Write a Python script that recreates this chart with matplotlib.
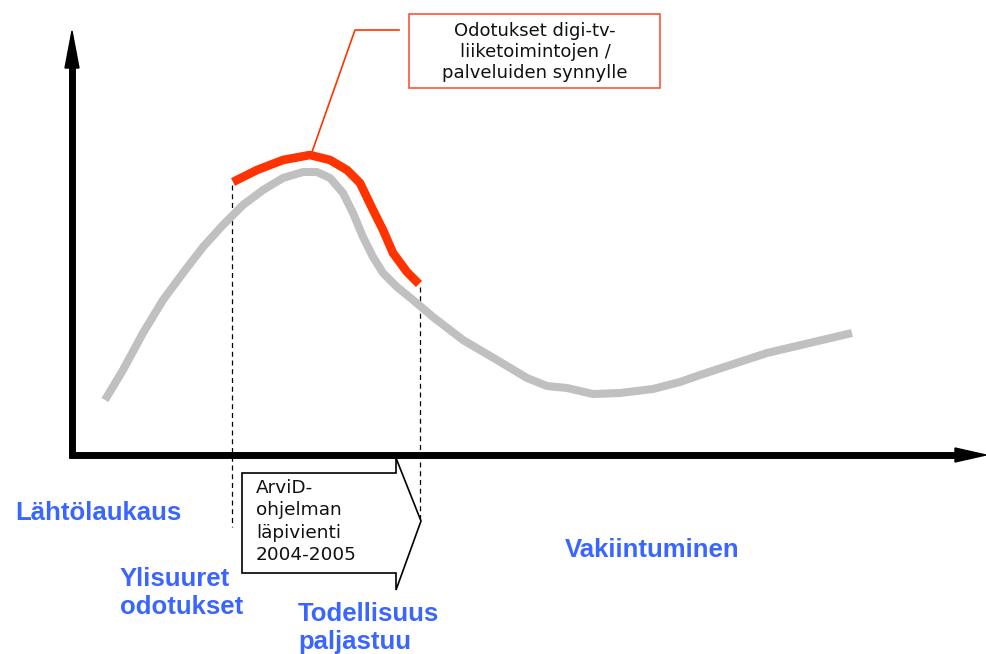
import matplotlib.pyplot as plt
from matplotlib.patches import Polygon, Rectangle

# Käyrät (kuvan pikselikoordinaateissa, y alaspäin)
harmaa_x = [105, 123, 143, 163, 183, 203, 223, 243, 263, 283, 303, 317, 330, 343, 353, 363, 373, 383,
            397, 413, 433, 463, 497, 527, 547, 567, 593, 620, 653, 680, 700, 767, 852]
harmaa_y = [400, 370, 333, 300, 273, 247, 225, 205, 190, 178, 172, 172, 178, 193, 213, 237, 257, 273,
            287, 300, 317, 340, 360, 378, 386, 388, 394, 393, 389, 382, 375, 353, 333]

punainen_x = [233, 257, 283, 310, 330, 347, 360, 373, 383, 393, 407, 419]
punainen_y = [182, 170, 160, 155, 160, 170, 183, 210, 230, 253, 272, 284]

katkoviivat_x = [232, 420]
katkoviivat_y = [(185, 527), (287, 522)]

otsikko = "Odotukset digi-tv-\nliiketoimintojen /\npalveluiden synnylle"
nuoli_teksti = "ArviD-\nohjelman\nläpivienti\n2004-2005"
vaiheet = ["Lähtölaukaus", "Ylisuuret\nodotukset", "Todellisuus\npaljastuu", "Vakiintuminen"]
vaihe_x = [15, 120, 298, 565]
vaihe_y = [513, 593, 628, 550]

sininen = "#3a66ff"

fig = plt.figure(figsize=(9.86, 6.54), dpi=100)
ax = fig.add_axes([0, 0, 1, 1])
ax.set_xlim(0, 986)
ax.set_ylim(654, 0)
ax.axis("off")

# akselit
ax.plot([72, 72], [458, 60], color="black", lw=5, solid_capstyle="butt")
ax.plot([69, 960], [455, 455], color="black", lw=5, solid_capstyle="butt")
ax.add_patch(Polygon([(65, 68), (72, 31), (79, 68)], closed=True, color="black"))
ax.add_patch(Polygon([(955, 448), (986, 455), (955, 462)], closed=True, color="black"))

# käyrät
ax.plot(harmaa_x, harmaa_y, color="#c0c0c0", lw=5.8, solid_capstyle="butt",
        solid_joinstyle="round", zorder=2)
ax.plot(punainen_x, punainen_y, color="#ff3300", lw=6.2, solid_capstyle="butt",
        solid_joinstyle="round", zorder=3)

# katkoviivat
for x, (y0, y1) in zip(katkoviivat_x, katkoviivat_y):
    ax.plot([x, x], [y0, y1], color="black", lw=0.9, ls=(0, (4, 3)), zorder=1)

# selitelaatikko
ax.add_patch(Rectangle((409, 14), 251, 74, fill=False, edgecolor="#ff5533", lw=1.2))
ax.text(535, 52, otsikko, ha="center", va="center", fontsize=13, linespacing=1.2,
        color="#111111", family="DejaVu Sans")
ax.plot([312, 355, 399], [152, 30, 30], color="#ff3300", lw=1.2)

# nuolilaatikko
ax.add_patch(Polygon([(242, 473), (396, 473), (396, 458), (421, 521), (396, 590), (396, 573), (242, 573)],
                     closed=True, facecolor="white", edgecolor="black", lw=1.2, zorder=4))
ax.text(256, 479, nuoli_teksti, ha="left", va="top", fontsize=13.3, linespacing=1.32,
        color="#111111", family="DejaVu Sans", zorder=5)

# vaiheet
for t, x, y in zip(vaiheet, vaihe_x, vaihe_y):
    ax.text(x, y, t, ha="left", va="center", fontsize=18.5, fontweight="bold", color=sininen,
            family="Liberation Sans", linespacing=1.25)

fig.savefig("out.png", dpi=100)
